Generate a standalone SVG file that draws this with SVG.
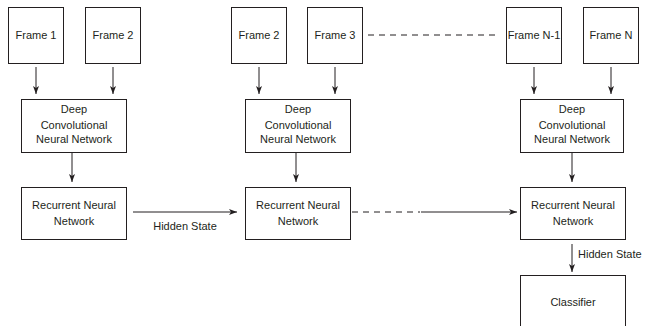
<svg xmlns="http://www.w3.org/2000/svg" width="649" height="326" viewBox="0 0 649 326">
<defs>
<marker id="ah" markerWidth="8" markerHeight="6" refX="8" refY="3" orient="auto" markerUnits="userSpaceOnUse">
<path d="M0,0 L8,3 L0,6 L2,3 Z" fill="#231f20"/>
</marker>
<style>
.box{fill:#fff;stroke:#231f20;stroke-width:1}
.t{font-family:"Liberation Sans",Arial,sans-serif;font-size:11px;fill:#231f20;text-anchor:middle}
.c{stroke:#231f20;stroke-width:1;fill:none}
.d{stroke:#231f20;stroke-width:1;fill:none;stroke-dasharray:6,5}
</style>
</defs>
<rect width="649" height="326" fill="#fff"/>
<g id="frame1"><rect class="box" x="8.5" y="7.5" width="55" height="56"/><text class="t" x="36" y="39">Frame 1</text></g>
<g id="frame2a"><rect class="box" x="85.5" y="7.5" width="55" height="56"/><text class="t" x="113" y="39">Frame 2</text></g>
<g id="dcnn1"><rect class="box" x="21.5" y="99.5" width="105" height="53"/><text class="t" x="74" y="113">Deep</text><text class="t" x="74" y="129">Convolutional</text><text class="t" x="74" y="143">Neural Network</text></g>
<g id="rnn1"><rect class="box" x="21.5" y="187.5" width="105" height="52"/><text class="t" x="74" y="209">Recurrent Neural</text><text class="t" x="74" y="225">Network</text></g>
<g id="frame2b"><rect class="box" x="231.5" y="7.5" width="55" height="56"/><text class="t" x="259" y="39">Frame 2</text></g>
<g id="frame3"><rect class="box" x="307.5" y="7.5" width="55" height="56"/><text class="t" x="335" y="39">Frame 3</text></g>
<g id="dcnn2"><rect class="box" x="245.5" y="99.5" width="105" height="53"/><text class="t" x="298" y="113">Deep</text><text class="t" x="298" y="129">Convolutional</text><text class="t" x="298" y="143">Neural Network</text></g>
<g id="rnn2"><rect class="box" x="245.5" y="187.5" width="105" height="52"/><text class="t" x="298" y="209">Recurrent Neural</text><text class="t" x="298" y="225">Network</text></g>
<g id="frameN1"><rect class="box" x="506.5" y="7.5" width="55" height="56"/><text class="t" x="534" y="39">Frame N-1</text></g>
<g id="frameN"><rect class="box" x="583.5" y="7.5" width="55" height="56"/><text class="t" x="611" y="39">Frame N</text></g>
<g id="dcnn3"><rect class="box" x="520.5" y="99.5" width="103" height="53"/><text class="t" x="572" y="113">Deep</text><text class="t" x="572" y="129">Convolutional</text><text class="t" x="572" y="143">Neural Network</text></g>
<g id="rnn3"><rect class="box" x="520.5" y="187.5" width="105" height="52"/><text class="t" x="573" y="209">Recurrent Neural</text><text class="t" x="573" y="225">Network</text></g>
<g id="classifier"><rect class="box" x="520.5" y="275.5" width="105" height="60"/><text class="t" x="573" y="306">Classifier</text></g>
<g id="connectors">
<line class="c" x1="36" y1="67" x2="36" y2="94" marker-end="url(#ah)"/>
<line class="c" x1="113" y1="67" x2="113" y2="94" marker-end="url(#ah)"/>
<line class="c" x1="72" y1="152" x2="72" y2="182" marker-end="url(#ah)"/>
<line class="c" x1="133" y1="212" x2="237" y2="212" marker-end="url(#ah)"/>
<text class="t" x="185" y="230">Hidden State</text>
<line class="c" x1="259" y1="67" x2="259" y2="94" marker-end="url(#ah)"/>
<line class="c" x1="335" y1="67" x2="335" y2="94" marker-end="url(#ah)"/>
<line class="c" x1="296" y1="152" x2="296" y2="182" marker-end="url(#ah)"/>
<line class="d" x1="368" y1="35" x2="500" y2="35"/>
<line class="d" x1="352" y1="212" x2="420" y2="212"/>
<line class="c" x1="421" y1="212" x2="517" y2="212" marker-end="url(#ah)"/>
<line class="c" x1="534" y1="67" x2="534" y2="94" marker-end="url(#ah)"/>
<line class="c" x1="611" y1="67" x2="611" y2="94" marker-end="url(#ah)"/>
<line class="c" x1="572" y1="152" x2="572" y2="182" marker-end="url(#ah)"/>
<line class="c" x1="572" y1="244" x2="572" y2="272" marker-end="url(#ah)"/>
<text class="t" x="578" y="258" style="text-anchor:start">Hidden State</text>
</g>
</svg>
